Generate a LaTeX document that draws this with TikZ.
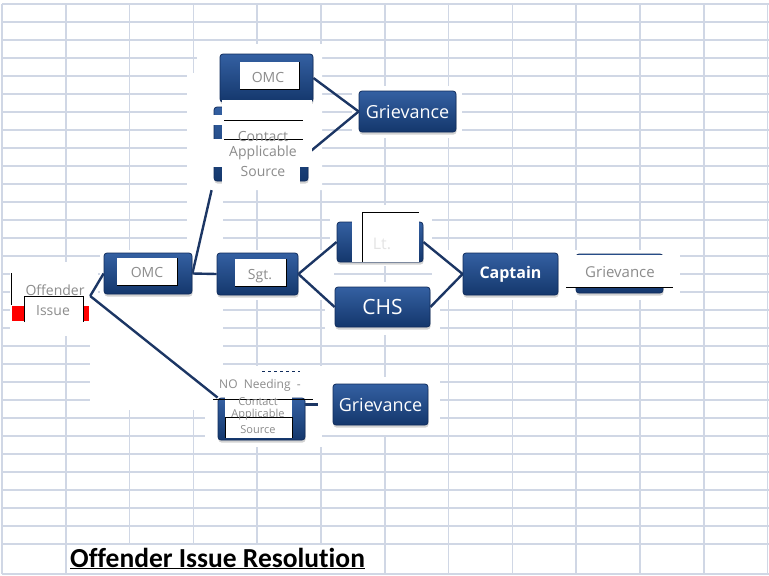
\documentclass[tikz,border=0pt]{standalone}
\usepackage{fontspec}
\newfontfamily\uifont{Open Sans}
\newfontfamily\titlefont[Ligatures=NoCommon]{Carlito}
\usetikzlibrary{shadows}
\definecolor{gridl}{RGB}{208,215,229}
\definecolor{boxtop}{RGB}{52,96,162}
\definecolor{boxbot}{RGB}{20,55,108}
\definecolor{boxedge}{RGB}{16,44,92}
\definecolor{linkblue}{RGB}{28,54,100}
\definecolor{dimgray}{RGB}{140,140,140}
\pgfdeclarelayer{back}
\pgfdeclarelayer{links}
\pgfsetlayers{back,links,main}

\begin{document}
\begin{tikzpicture}[x=1pt, y=-1pt,
    bluebox/.style={rectangle, rounded corners=3pt, draw=boxedge, line width=0.8pt,
        top color=boxtop, bottom color=boxbot, inner sep=0pt,
        drop shadow={opacity=0.35, shadow xshift=0.5pt, shadow yshift=-2.5pt}},
    patch/.style={fill=white, draw=none},
    link/.style={draw=linkblue, line width=2.4pt},
    dimtext/.style={font=\uifont\fontsize{14}{14}\selectfont, text=dimgray, inner sep=0pt},
    smalltext/.style={font=\uifont\fontsize{11}{11}\selectfont, text=dimgray, inner sep=0pt},
    boxtext/.style={font=\uifont\fontsize{18}{18}\selectfont, text=white}]
    \useasboundingbox (0,0) rectangle (769,576);

    % Sheet grid and the white areas on it
    \begin{pgfonlayer}{back}
        \fill[white] (0,0) rectangle (769,576);
        \foreach \k in {0,...,12}
            \draw[gridl, line width=1.5pt] ({2+63.8*\k},4) -- ({2+63.8*\k},574);
        \foreach \gy in {4,22,...,544}
            \draw[gridl, line width=1.5pt] (2,\gy) -- (769,\gy);
        \draw[gridl, line width=2pt] (2,574) -- (769,574);
        \fill[patch] (10,262) rectangle (98,336);
        \fill[patch] (90,296) rectangle (223,410);
        \fill[patch] (100,250) rectangle (334,300);
        \fill[patch] (187,190) rectangle (223,250);
        \fill[patch] (197,44) -- (322,44) -- (322,190) -- (187,190) -- (187,73) -- (197,73) -- cycle;
        \fill[patch] (352,86) rectangle (462,138);
        \fill[patch] (330,205) rectangle (432,266);
        \fill[patch] (325,282) rectangle (440,335);
        \fill[patch] (432,250) rectangle (680,300);
        \fill[patch] (205,366) rectangle (322,447);
        \fill[patch] (322,377) rectangle (440,435);
        \fill[patch] (68,545) rectangle (366,573);
    \end{pgfonlayer}

    % Boxes
    \node[minimum width=80pt, minimum height=52pt] (offender) at (50,296) {};
    \node[bluebox, minimum width=93pt, minimum height=48pt] (omctop) at (266.5,78) {};
    \node[bluebox, minimum width=94pt, minimum height=74pt] (contact) at (261,144) {};
    \node[bluebox, minimum width=97pt, minimum height=41pt, boxtext] (grieva) at (407.5,111.5) {Grievance};
    \node[bluebox, minimum width=88pt, minimum height=41pt] (omc) at (148,273.5) {};
    \node[bluebox, minimum width=81pt, minimum height=42pt] (sgt) at (257.5,274) {};
    \node[bluebox, minimum width=86pt, minimum height=40pt] (lt) at (380,242) {};
    \node[bluebox, minimum width=95pt, minimum height=40pt, boxtext,
        font=\uifont\fontsize{21}{21}\selectfont] (chs) at (382.5,307) {CHS};
    \node[bluebox, minimum width=95pt, minimum height=42pt, boxtext,
        font=\uifont\bfseries\fontsize{16}{16}\selectfont] (captain) at (510.5,274) {Captain};
    \node[bluebox, minimum width=87pt, minimum height=39pt] (grievb) at (619.5,273.5) {};
    \node[bluebox, minimum width=87pt, minimum height=42pt] (noneed) at (261.5,419) {};
    \node[bluebox, minimum width=95pt, minimum height=41pt, boxtext] (grievc) at (380.5,404.5) {Grievance};

    % Connectors
    \begin{pgfonlayer}{links}
        \draw[link] (offender.east) -- (omc.west);
        \draw[link] (offender.east) -- (noneed.north west);
        \draw[link, shorten >=9pt] (omc.east) -- (contact.south west);
        \draw[link] (omc.east) -- (sgt.west);
        \draw[link] (omctop.east) -- (grieva.west);
        \draw[link] ([yshift=-9pt]contact.east) -- (grieva.west);
        \draw[link] (sgt.east) -- (lt.west);
        \draw[link] (sgt.east) -- (chs.west);
        \draw[link] (lt.east) -- (captain.west);
        \draw[link] (chs.east) -- (captain.west);
        \draw[link, shorten >=15pt] (noneed.east |- grievc.west) -- (grievc.west);
    \end{pgfonlayer}

    % Offender issue
    \draw[black, line width=0.8pt] (11,273) -- (11,305);
    \fill[red] (12,306) rectangle (24,321);
    \fill[red] (83,306) rectangle (89,321);
    \fill[patch] (24,296) rectangle (83,322);
    \draw[black, line width=0.8pt] (24,322) -- (24,296) -- (83,296) -- (83,322);
    \node[dimtext] (offtxt) at (55,290) {Offender};
    \node[dimtext] (isstxt) at (53,311) {Issue};

    % Top branch
    \fill[patch] (240,62) rectangle (299,89);
    \draw[black, line width=0.6pt] (240,89) -- (299,89) -- (299,62);
    \node[dimtext] (omctoptxt) at (268,77) {OMC};
    \fill[patch] (222,100) rectangle (300,188);
    \fill[patch] (210,115) rectangle (223,125);
    \fill[patch] (210,139) rectangle (223,167);
    \fill[patch] (299,100) rectangle (312,167);
    \draw[black, line width=0.8pt] (224,120) -- (303,120);
    \draw[black, line width=0.8pt] (224,139) -- (303,139);
    \node[dimtext] (contxt) at (263,136) {Contact};
    \node[dimtext] (apptxt) at (263,153) {Applicable};
    \node[dimtext] (srctxt) at (263,171) {Source};

    % Middle branch
    \fill[patch] (117,258) rectangle (177,285);
    \draw[black, line width=0.6pt] (117,285) -- (177,285) -- (177,258);
    \node[dimtext] (omctxt) at (147,272) {OMC};
    \fill[patch] (235,259) rectangle (286,286);
    \draw[black, line width=0.6pt] (235,286) -- (286,286) -- (286,259);
    \node[dimtext] (sgttxt) at (260,276) {Sgt.};
    \fill[patch] (352,212) rectangle (419,262);
    \draw[black, line width=0.8pt] (362,262) -- (362,212) -- (419,212);
    \node[font=\uifont\fontsize{16}{16}\selectfont, text={rgb,255:red,228;green,228;blue,228}] (lttxt) at (382,244) {Lt.};
    \fill[patch] (566,255) rectangle (673,287);
    \draw[black, line width=0.8pt] (566,287) -- (673,287);
    \node[dimtext, font=\uifont\fontsize{15}{15}\selectfont] (grievbtxt) at (620,272) {Grievance};

    % Bottom branch
    \fill[patch] (225,392) rectangle (292,438);
    \draw[black, line width=0.8pt] (213,399) -- (313,399);
    \draw[black, fill=white, line width=0.6pt] (225,438) -- (225,417) -- (292,417) -- (292,438);
    \draw[boxedge, dashed, line width=0.8pt] (262,371) -- (300,371);
    \node[smalltext, font=\uifont\fontsize{12}{12}\selectfont] (needtxt) at (260,385) {NO\ \ Needing\ \ -};
    \node[smalltext] (con2txt) at (258,402) {Contact};
    \node[smalltext] (app2txt) at (258,415) {Applicable};
    \node[smalltext] (src2txt) at (258,430) {Source};

    % Title
    \node[anchor=base west, inner sep=0pt, font=\titlefont\bfseries\fontsize{27.5}{27.5}\selectfont] (title) at (70,567) {\underline{Offender Issue Resolution}};
\end{tikzpicture}
\end{document}
